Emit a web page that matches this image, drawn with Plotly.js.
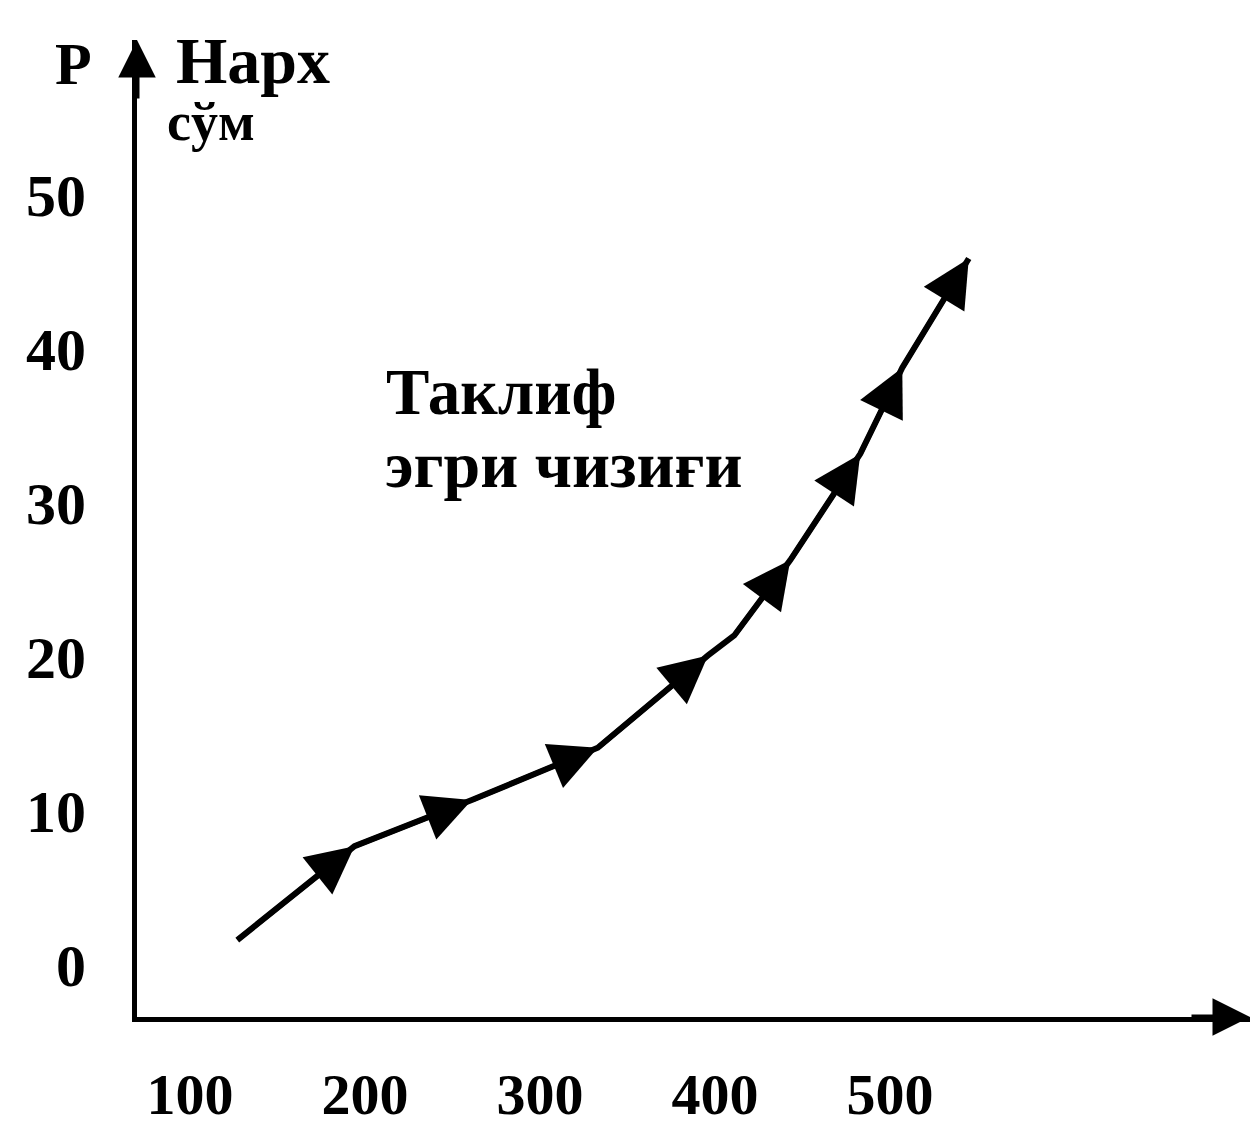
<!DOCTYPE html>
<html>
<head>
<meta charset="utf-8">
<script src="https://cdn.plot.ly/plotly-3.0.1.min.js"></script>
<style>html,body{margin:0;padding:0;background:#fff;}#chart{width:1254px;height:1130px;}</style>
</head>
<body>
<div id="chart"></div>
<script>
// Supply curve data (quantity, price in сўм)
const quantity = [127, 194, 261, 333, 396, 411, 443, 483, 507, 545];
const price    = [1.6, 7.7, 10.7, 14.1, 20.1, 21.4, 26.3, 33.2, 38.8, 45.9];
// indices of curve points where direction arrowheads sit
const arrowIdx = [1, 2, 3, 4, 6, 7, 8, 9];
const xTicks = [100, 200, 300, 400, 500];
const yTicks = [0, 10, 20, 30, 40, 50];
const yAxisLetter = "Р";
const yAxisTitle1 = "Нарх";
const yAxisTitle2 = "сўм";
const curveLabel1 = "Таклиф";
const curveLabel2 = "эгри чизиғи";

const FONT = "Liberation Serif, DejaVu Serif, serif";
const xRange = [69.7, 705.7];
const yRange = [-3.4, 60.1];

const annotations = [];
arrowIdx.forEach(i => {
  annotations.push({
    x: quantity[i], y: price[i], ax: quantity[i-1], ay: price[i-1],
    xref: 'x', yref: 'y', axref: 'x', ayref: 'y',
    text: '', showarrow: true, arrowhead: 2, arrowsize: 1.9, arrowwidth: 5,
    arrowcolor: '#000', standoff: 0, startstandoff: 0
  });
});
// axis arrowheads
annotations.push({x: xRange[0], y: yRange[1], ax: 0, ay: 60, xref: 'x', yref: 'y',
  text: '', showarrow: true, arrowhead: 2, arrowsize: 1.5, arrowwidth: 5, arrowcolor: '#000', standoff: 0});
annotations.push({x: xRange[1], y: yRange[0], ax: -60, ay: 0, xref: 'x', yref: 'y',
  text: '', showarrow: true, arrowhead: 2, arrowsize: 1.5, arrowwidth: 5, arrowcolor: '#000', standoff: 0});
// texts
const txt = (t, x, y, size, anchor, ref) => ({text: t, x: x, y: y, xref: ref || 'x', yref: ref || 'y', showarrow: false,
  xanchor: anchor, yanchor: 'middle', font: {family: FONT, size: size, color: '#000', weight: 'bold'}});
annotations.push(txt(yAxisLetter, -0.0575, 0.975, 60, 'center', 'paper'));
annotations.push(txt(yAxisTitle1, 91.0, 58.8, 66, 'left'));
annotations.push(txt(yAxisTitle2, 85.5, 54.8, 54, 'left'));
annotations.push(txt(curveLabel1, 211.0, 37.2, 65, 'left'));
annotations.push(txt(curveLabel2, 210.0, 32.5, 66, 'left'));

const trace = {
  x: quantity, y: price, mode: 'lines', type: 'scatter',
  line: {color: '#000', width: 6, shape: 'linear'}, hoverinfo: 'skip', cliponaxis: false
};

const layout = {
  width: 1254, height: 1130,
  margin: {l: 137, r: 4, t: 40, b: 113},
  paper_bgcolor: '#fff', plot_bgcolor: '#fff',
  showlegend: false,
  xaxis: {range: xRange, tickvals: xTicks, ticktext: xTicks.map(String), showgrid: false, zeroline: false,
    showline: true, linecolor: '#000', linewidth: 5, ticks: '', ticklabelstandoff: 22,
    tickfont: {family: FONT, size: 58, color: '#000', weight: 'bold'}},
  yaxis: {range: yRange, tickvals: yTicks, ticktext: yTicks.map(String), showgrid: false, zeroline: false,
    showline: true, linecolor: '#000', linewidth: 5, ticks: '', ticklabelstandoff: 34,
    tickfont: {family: FONT, size: 60, color: '#000', weight: 'bold'}},
  annotations: annotations
};

Plotly.newPlot('chart', [trace], layout, {staticPlot: true});
</script>
</body>
</html>
